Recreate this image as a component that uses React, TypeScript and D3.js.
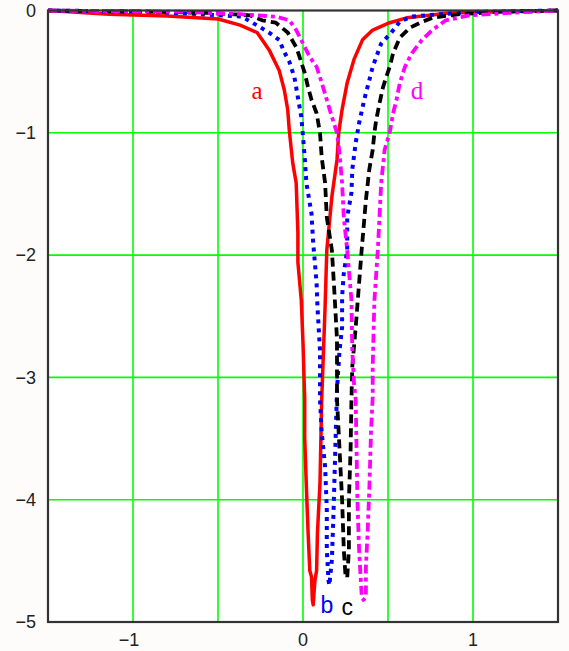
import { useEffect, useRef } from 'react';
import * as d3 from 'd3';

type Pt = [number, number];

// curve a (red, solid)
const curveA: Pt[] = [
  [-1.5, 0], [-1.14, -0.03], [-0.8, -0.045], [-0.5, -0.07], [-0.37, -0.12], [-0.27, -0.18],
  [-0.2, -0.32], [-0.14, -0.49], [-0.11, -0.65], [-0.09, -0.81], [-0.08, -0.99], [-0.06, -1.25],
  [-0.04, -1.41], [-0.03, -1.82], [-0.03, -2.06], [-0.01, -2.37], [0.0, -2.72], [0.01, -3.18],
  [0.01, -3.49], [0.02, -3.9], [0.03, -4.27], [0.04, -4.58], [0.05, -4.63], [0.055, -4.82],
  [0.06, -4.86], [0.07, -4.66], [0.08, -4.58], [0.085, -4.27], [0.1, -3.86], [0.11, -3.18],
  [0.13, -2.42], [0.14, -1.96], [0.17, -1.52], [0.2, -1.22], [0.21, -1.0], [0.23, -0.81],
  [0.26, -0.59], [0.3, -0.4], [0.35, -0.24], [0.41, -0.16], [0.51, -0.1], [0.61, -0.06],
  [0.73, -0.04], [0.86, -0.02], [1.16, -0.01], [1.5, 0],
];

// curve b (blue, dotted)
const curveB: Pt[] = [
  [-1.5, 0], [-0.9, -0.01], [-0.61, -0.03], [-0.36, -0.05], [-0.26, -0.13], [-0.2, -0.18],
  [-0.14, -0.24], [-0.11, -0.34], [-0.08, -0.42], [-0.05, -0.55], [-0.03, -0.71], [-0.01, -0.87],
  [0.0, -1.03], [0.01, -1.2], [0.02, -1.41], [0.05, -1.66], [0.06, -1.9], [0.08, -2.23],
  [0.085, -2.42], [0.1, -2.78], [0.1, -3.18], [0.11, -3.45], [0.13, -3.73], [0.14, -4.08],
  [0.14, -4.41], [0.15, -4.66], [0.155, -4.7], [0.17, -4.49], [0.18, -4.08], [0.19, -3.59],
  [0.2, -3.1], [0.215, -2.78], [0.23, -2.59], [0.23, -2.34], [0.24, -2.15], [0.26, -1.96],
  [0.26, -1.69], [0.285, -1.49], [0.29, -1.3], [0.31, -1.08], [0.33, -0.92], [0.36, -0.73],
  [0.39, -0.57], [0.41, -0.46], [0.46, -0.27], [0.52, -0.18], [0.57, -0.09], [0.64, -0.05],
  [0.8, -0.03], [1.04, -0.01], [1.5, 0],
];

// curve c (black, dashed)
const curveC: Pt[] = [
  [-1.5, 0], [-0.9, -0.01], [-0.55, -0.02], [-0.31, -0.04], [-0.24, -0.08], [-0.16, -0.1],
  [-0.09, -0.18], [-0.04, -0.3], [-0.02, -0.38], [0.01, -0.51], [0.03, -0.63], [0.05, -0.73],
  [0.08, -0.84], [0.1, -1.0], [0.11, -1.2], [0.13, -1.41], [0.14, -1.69], [0.17, -1.96],
  [0.185, -2.31], [0.2, -2.69], [0.2, -3.18], [0.215, -3.59], [0.23, -4.0], [0.24, -4.41],
  [0.25, -4.62], [0.26, -4.64], [0.27, -4.41], [0.27, -4.0], [0.28, -3.59], [0.285, -3.18],
  [0.29, -2.91], [0.31, -2.59], [0.33, -2.23], [0.345, -1.96], [0.37, -1.55], [0.39, -1.3],
  [0.41, -1.14], [0.42, -1.0], [0.43, -0.9], [0.45, -0.76], [0.47, -0.63], [0.51, -0.46],
  [0.53, -0.35], [0.57, -0.22], [0.63, -0.14], [0.69, -0.1], [0.76, -0.06], [0.92, -0.03],
  [1.16, -0.01], [1.5, 0],
];

// curve d (magenta, dash-dot)
const curveD: Pt[] = [
  [-1.5, 0], [-0.73, -0.01], [-0.37, -0.03], [-0.16, -0.05], [-0.08, -0.08], [-0.04, -0.16],
  [0.0, -0.27], [0.04, -0.38], [0.08, -0.46], [0.11, -0.59], [0.14, -0.73], [0.17, -0.87],
  [0.2, -1.0], [0.215, -1.17], [0.23, -1.41], [0.24, -1.69], [0.26, -1.96], [0.285, -2.37],
  [0.29, -2.78], [0.3, -3.05], [0.31, -3.18], [0.315, -3.59], [0.32, -4.0], [0.33, -4.41],
  [0.345, -4.78], [0.355, -4.82], [0.37, -4.8], [0.37, -4.55], [0.38, -4.27], [0.39, -3.92],
  [0.4, -3.45], [0.41, -3.16], [0.41, -2.91], [0.42, -2.37], [0.44, -1.96], [0.46, -1.41],
  [0.48, -1.14], [0.51, -1.0], [0.53, -0.84], [0.55, -0.73], [0.57, -0.59], [0.6, -0.46],
  [0.64, -0.35], [0.7, -0.24], [0.76, -0.16], [0.84, -0.08], [0.98, -0.04], [1.21, -0.02],
  [1.5, 0],
];

const xGrid = [-1, -0.5, 0, 0.5, 1];
const xTickLabels = [-1, 0, 1];
const yGrid = [-1, -2, -3, -4];
const yTickLabels = [0, -1, -2, -3, -4, -5];

const curveNames = ['a', 'b', 'c', 'd'];
const curveLabelPos: Pt[] = [[-0.27, -0.72], [0.14, -4.93], [0.26, -4.94], [0.67, -0.72]];

export default function App() {
  const ref = useRef<SVGSVGElement>(null);

  useEffect(() => {
    if (!ref.current) return;
    d3.select(ref.current).selectAll('*').remove();

    const width = 569;
    const height = 651;
    const svg = d3.select(ref.current).attr('width', width).attr('height', height);

    const x = d3.scaleLinear().domain([-1.5, 1.5]).range([48, 558]);
    const y = d3.scaleLinear().domain([-5, 0]).range([622, 10.5]);

    svg.append('rect').attr('width', width).attr('height', height).attr('fill', '#fdfcfa');
    svg.append('rect')
      .attr('x', x(-1.5)).attr('y', y(0))
      .attr('width', x(1.5) - x(-1.5)).attr('height', y(-5) - y(0))
      .attr('fill', '#ffffff');

    // grid
    svg.append('g').selectAll('line').data(xGrid).join('line')
      .attr('x1', d => x(d)).attr('x2', d => x(d))
      .attr('y1', y(0)).attr('y2', y(-5))
      .attr('stroke', '#00ff00').attr('stroke-width', 1.6);
    svg.append('g').selectAll('line').data(yGrid).join('line')
      .attr('x1', x(-1.5)).attr('x2', x(1.5))
      .attr('y1', d => y(d)).attr('y2', d => y(d))
      .attr('stroke', '#00ff00').attr('stroke-width', 1.6);

    const line = d3.line<Pt>().x(d => x(d[0])).y(d => y(d[1]));

    const series = [
      { data: curveA, color: '#ff0000', dash: null, w: 3.5 },
      { data: curveB, color: '#0000ff', dash: '4,5', w: 4 },
      { data: curveC, color: '#000000', dash: '9,5', w: 3.8 },
      { data: curveD, color: '#ff00ff', dash: '9,4,4,4', w: 3.8 },
    ];
    series.forEach(s => {
      svg.append('path')
        .attr('d', line(s.data))
        .attr('fill', 'none')
        .attr('stroke', s.color)
        .attr('stroke-width', s.w)
        .attr('stroke-dasharray', s.dash)
        .attr('stroke-linejoin', 'round');
    });

    // frame
    svg.append('rect')
      .attr('x', x(-1.5)).attr('y', y(0))
      .attr('width', x(1.5) - x(-1.5)).attr('height', y(-5) - y(0))
      .attr('fill', 'none').attr('stroke', '#333').attr('stroke-width', 2.2);

    // tick labels
    svg.append('g').selectAll('text').data(yTickLabels).join('text')
      .attr('x', 36).attr('y', d => y(d)).attr('dy', '0.35em')
      .attr('text-anchor', 'end')
      .style('font-family', '"Liberation Sans Narrow", "Liberation Sans", sans-serif')
      .style('font-size', '18px').style('fill', '#222')
      .text(d => (d < 0 ? '\u2212' + Math.abs(d) : String(d)));
    svg.append('g').selectAll('text').data(xTickLabels).join('text')
      .attr('x', d => x(d) - (d < 0 ? 4 : 0)).attr('y', 646)
      .attr('text-anchor', 'middle')
      .style('font-family', '"Liberation Sans Narrow", "Liberation Sans", sans-serif')
      .style('font-size', '18px').style('fill', '#222')
      .text(d => (d < 0 ? '\u2212' + Math.abs(d) : String(d)));

    // curve labels
    svg.append('g').selectAll('text').data(curveNames).join('text')
      .attr('x', (d, i) => x(curveLabelPos[i][0]))
      .attr('y', (d, i) => y(curveLabelPos[i][1]))
      .attr('text-anchor', 'middle')
      .style('font-family', (d, i) => (i === 0 || i === 3 ? '"Liberation Serif", serif' : '"Liberation Sans", sans-serif'))
      .style('font-size', (d, i) => (i === 0 || i === 3 ? '25px' : '23px'))
      .style('fill', (d, i) => series[i].color)
      .text(d => d);
  }, []);

  return (
    <div style={{ position: 'absolute', left: 0, top: 0 }}>
      <svg ref={ref} style={{ display: 'block' }}></svg>
    </div>
  );
}
